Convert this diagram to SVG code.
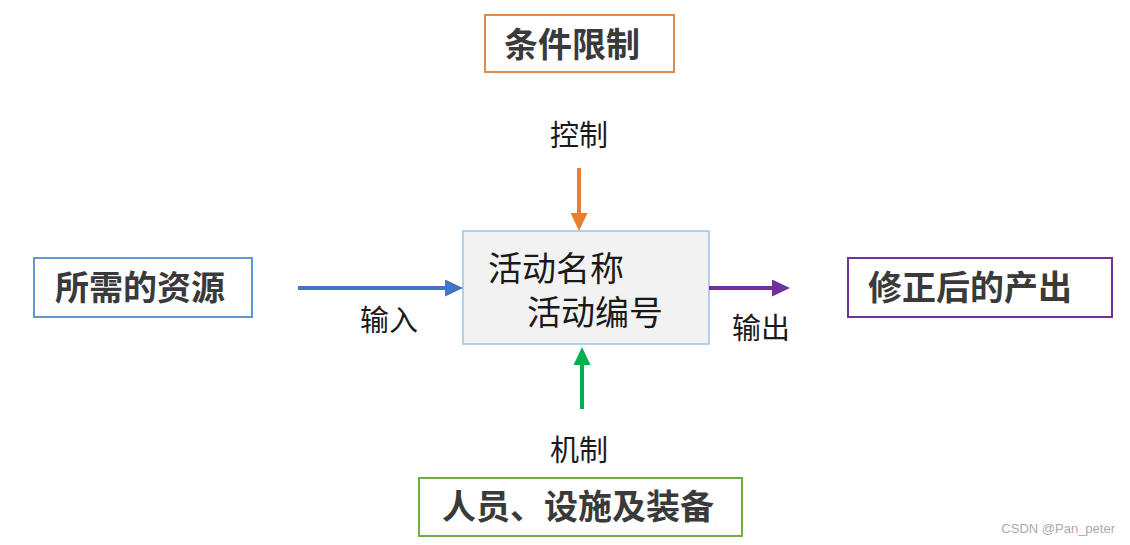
<svg xmlns="http://www.w3.org/2000/svg" width="1130" height="545" viewBox="0 0 1130 545">
<style>
.title{font-family:"Noto Sans CJK SC","Noto Sans",sans-serif;font-weight:bold;font-size:34px;fill:#3a3a3a;text-anchor:middle}
.lbl{font-family:"Noto Sans CJK SC","Noto Sans",sans-serif;font-size:29px;fill:#1a1a1a;text-anchor:middle}
.act{font-family:"Noto Sans CJK SC","Noto Sans",sans-serif;font-size:34px;fill:#1a1a1a}
.box{fill:#fff;stroke-width:2}
.conn{fill:none;stroke-width:4}
</style>
<defs>
<marker id="hb" markerUnits="userSpaceOnUse" markerWidth="18" markerHeight="17" refX="8" refY="8.5" orient="auto"><path d="M0,0 L18,8.5 L0,17 z" fill="#4472c4"/></marker>
<marker id="ho" markerUnits="userSpaceOnUse" markerWidth="18" markerHeight="17" refX="8" refY="8.5" orient="auto"><path d="M0,0 L18,8.5 L0,17 z" fill="#ed7d31"/></marker>
<marker id="hp" markerUnits="userSpaceOnUse" markerWidth="18" markerHeight="17" refX="8" refY="8.5" orient="auto"><path d="M0,0 L18,8.5 L0,17 z" fill="#7030a0"/></marker>
<marker id="hg" markerUnits="userSpaceOnUse" markerWidth="18" markerHeight="17" refX="8" refY="8.5" orient="auto"><path d="M0,0 L18,8.5 L0,17 z" fill="#00b050"/></marker>
</defs>
<rect width="1130" height="545" fill="#fff"/>
<g id="control">
<rect class="box" x="485" y="15" width="189" height="57" stroke="#e08a4a"/>
<text class="title" x="572" y="57">条件限制</text>
</g>
<g id="input">
<rect class="box" x="34" y="258" width="218" height="59" stroke="#5b9bd5"/>
<text class="title" x="140" y="300">所需的资源</text>
</g>
<g id="output">
<rect class="box" x="848" y="258" width="264" height="59" stroke="#7030a0"/>
<text class="title" x="970" y="300">修正后的产出</text>
</g>
<g id="mechanism">
<rect class="box" x="419" y="478" width="323" height="58" stroke="#70ad47"/>
<text class="title" x="578" y="519">人员、设施及装备</text>
</g>
<g id="activity">
<rect x="463" y="231" width="246" height="113" fill="#f2f2f2" stroke="#9dc3e6" stroke-width="1.5"/>
<text class="act" x="488" y="281">活动名称</text>
<text class="act" x="527" y="325">活动编号</text>
</g>
<g id="connectors">
<line class="conn" x1="298" y1="288" x2="453" y2="288" stroke="#4472c4" marker-end="url(#hb)"/>
<line class="conn" x1="579" y1="168" x2="579" y2="221" stroke="#ed7d31" marker-end="url(#ho)"/>
<line class="conn" x1="709" y1="288" x2="780" y2="288" stroke="#7030a0" marker-end="url(#hp)"/>
<line class="conn" x1="582" y1="409" x2="582" y2="357" stroke="#00b050" marker-end="url(#hg)"/>
<text class="lbl" x="579" y="146">控制</text>
<text class="lbl" x="389" y="331">输入</text>
<text class="lbl" x="761" y="339">输出</text>
<text class="lbl" x="579" y="461">机制</text>
</g>
<text x="1115" y="533" font-family="Liberation Sans, sans-serif" font-size="13" fill="#aaa" text-anchor="end">CSDN @Pan_peter</text>
</svg>
